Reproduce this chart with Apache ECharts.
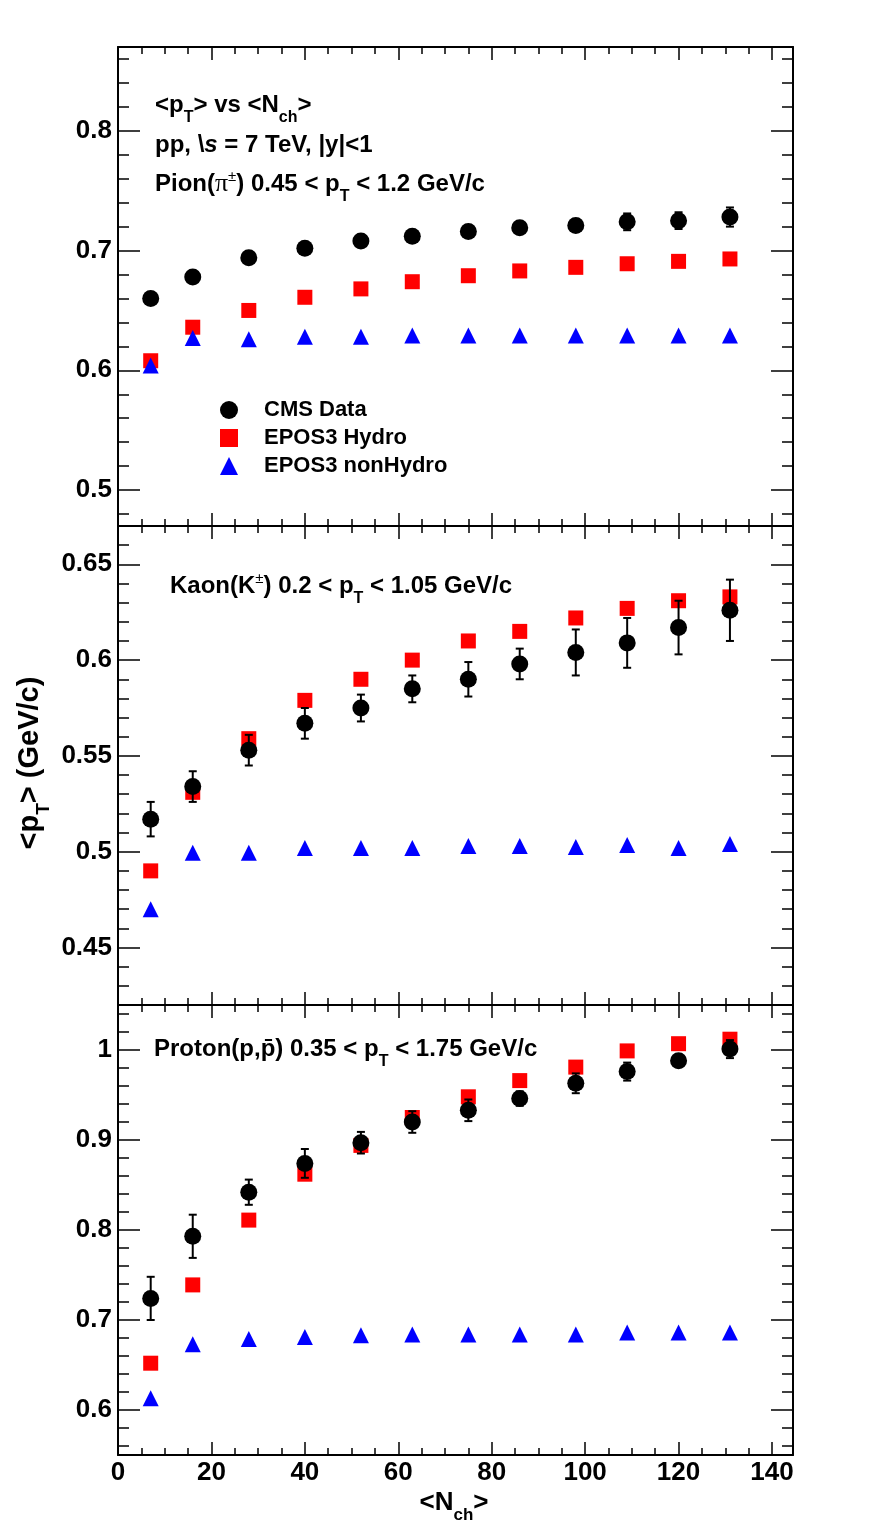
<!DOCTYPE html>
<html>
<head>
<meta charset="utf-8">
<script src="https://cdn.jsdelivr.net/npm/echarts@6/dist/echarts.min.js"></script>
<style>
  html, body { margin: 0; padding: 0; background: #fff; }
  #chart { width: 884px; height: 1536px; }
</style>
</head>
<body>
<div id="chart"></div>
<script>
// <Nch> bins
const nch = [7, 16, 28, 40, 52, 63, 75, 86, 98, 109, 120, 131];

// pion
const pionData = [0.660, 0.678, 0.694, 0.702, 0.708, 0.712, 0.716, 0.719, 0.721, 0.724, 0.725, 0.728];
const pionErr = [0.002, 0.002, 0.002, 0.003, 0.003, 0.003, 0.004, 0.004, 0.005, 0.007, 0.007, 0.008];
const pionHydro = [0.608, 0.636, 0.650, 0.661, 0.668, 0.674, 0.679, 0.683, 0.686, 0.689, 0.691, 0.693];
const pionNonHydro = [0.604, 0.627, 0.626, 0.628, 0.628, 0.629, 0.629, 0.629, 0.629, 0.629, 0.629, 0.629];

// kaon
const kaonData = [0.517, 0.534, 0.553, 0.567, 0.575, 0.585, 0.590, 0.598, 0.604, 0.609, 0.617, 0.626];
const kaonErr = [0.009, 0.008, 0.008, 0.008, 0.007, 0.007, 0.009, 0.008, 0.012, 0.013, 0.014, 0.016];
const kaonHydro = [0.490, 0.531, 0.559, 0.579, 0.590, 0.600, 0.610, 0.615, 0.622, 0.627, 0.631, 0.633];
const kaonNonHydro = [0.470, 0.4995, 0.4995, 0.502, 0.502, 0.502, 0.503, 0.503, 0.5025, 0.5035, 0.502, 0.504];

// proton
const protonData = [0.724, 0.793, 0.842, 0.874, 0.897, 0.920, 0.933, 0.946, 0.963, 0.976, 0.988, 1.001];
const protonErr = [0.024, 0.024, 0.014, 0.016, 0.012, 0.012, 0.012, 0.008, 0.011, 0.010, 0.006, 0.010];
const protonHydro = [0.652, 0.739, 0.811, 0.862, 0.894, 0.925, 0.948, 0.966, 0.981, 0.999, 1.007, 1.012];
const protonNonHydro = [0.613, 0.673, 0.679, 0.681, 0.683, 0.684, 0.684, 0.684, 0.684, 0.686, 0.686, 0.686];

// axis ranges
const xRange = [0, 144.5];
const yRanges = [[0.47, 0.87], [0.42, 0.67], [0.55, 1.05]];

const FONT = "'Liberation Sans', Arial, sans-serif";

let myChart = echarts.init(document.getElementById('chart'), null, {renderer: 'canvas'});

// panel boxes
const grids = [
    {left: 118, top: 47, width: 675, height: 479},
    {left: 118, top: 526, width: 675, height: 479},
    {left: 118, top: 1005, width: 675, height: 450}
];

function pairs(ys) {
    return nch.map((x, i) => [x, ys[i]]);
}

function xAxisPair(gi, withLabels) {
    const base = {
        type: 'value', gridIndex: gi, min: xRange[0], max: xRange[1], interval: 20,
        axisLine: {show: true, onZero: false, lineStyle: {color: '#000', width: 2}},
        axisTick: {show: true, inside: true, length: 13, lineStyle: {color: '#000', width: 1.5}},
        minorTick: {show: true, splitNumber: 4, length: 7, lineStyle: {color: '#000', width: 1.5}},
        splitLine: {show: false}
    };
    return [
        Object.assign({}, base, {
            position: 'bottom',
            axisLabel: {show: withLabels, showMaxLabel: false, margin: 5, color: '#000',
                fontSize: 26, fontWeight: 'bold', fontFamily: FONT}
        }),
        Object.assign({}, base, {position: 'top', axisLabel: {show: false}})
    ];
}

function yAxisPair(gi) {
    const base = {
        type: 'value', gridIndex: gi, min: yRanges[gi][0], max: yRanges[gi][1], splitNumber: 5,
        axisLine: {show: true, onZero: false, lineStyle: {color: '#000', width: 2}},
        axisTick: {show: true, inside: true, length: 22, lineStyle: {color: '#000', width: 1.5}},
        minorTick: {show: true, splitNumber: 5, length: 11, lineStyle: {color: '#000', width: 1.5}},
        splitLine: {show: false}
    };
    return [
        Object.assign({}, base, {
            position: 'left',
            axisLabel: {show: true, showMinLabel: false, showMaxLabel: false, margin: 6, color: '#000',
                fontSize: 26, fontWeight: 'bold', fontFamily: FONT}
        }),
        Object.assign({}, base, {position: 'right', axisLabel: {show: false}})
    ];
}

// error bar with caps
function renderErr(params, api) {
    const x = api.value(0), y = api.value(1), e = api.value(2);
    const hi = api.coord([x, y + e]);
    const lo = api.coord([x, y - e]);
    const w = 4;
    const st = {stroke: '#000', lineWidth: 2};
    return {
        type: 'group',
        children: [
            {type: 'line', shape: {x1: hi[0], y1: hi[1], x2: lo[0], y2: lo[1]}, style: st},
            {type: 'line', shape: {x1: hi[0] - w, y1: hi[1], x2: hi[0] + w, y2: hi[1]}, style: st},
            {type: 'line', shape: {x1: lo[0] - w, y1: lo[1], x2: lo[0] + w, y2: lo[1]}, style: st}
        ]
    };
}

function panelSeries(gi, data, err, hydro, nonHydro) {
    const ax = {xAxisIndex: gi * 2, yAxisIndex: gi * 2};
    return [
        Object.assign({name: 'EPOS3 Hydro', type: 'scatter', symbol: 'rect', symbolSize: 15,
            itemStyle: {color: '#ff0000', opacity: 1}, data: pairs(hydro), z: 2}, ax),
        Object.assign({name: 'EPOS3 nonHydro', type: 'scatter', symbol: 'triangle', symbolSize: 16,
            itemStyle: {color: '#0000ff', opacity: 1}, data: pairs(nonHydro), z: 3}, ax),
        Object.assign({name: 'CMS Data', type: 'scatter', symbol: 'circle', symbolSize: 17,
            itemStyle: {color: '#000', opacity: 1}, data: pairs(data), z: 5}, ax),
        Object.assign({name: 'CMS errors', type: 'custom', renderItem: renderErr,
            itemStyle: {color: '#000'},
            encode: {x: 0, y: 1}, data: nch.map((x, i) => [x, data[i], err[i]]), z: 4}, ax)
    ];
}

// rich text pieces
const rich = {
    sub: {fontSize: 16, fontWeight: 'bold', fontFamily: FONT, fill: '#000', lineHeight: 16, padding: [25, 0, 0, 0]},
    sup: {fontSize: 15, fontWeight: 'normal', fontFamily: FONT, fill: '#000', lineHeight: 15, padding: [0, 0, 15, 0]},
    gr: {fontSize: 26, fontWeight: 'normal', fontFamily: "'Liberation Serif', 'DejaVu Serif', serif", fill: '#000', lineHeight: 24},
    it: {fontSize: 24, fontWeight: 'bold', fontStyle: 'italic', fontFamily: FONT, fill: '#000', lineHeight: 24}
};

function label(txt, x, y, size) {
    return {
        type: 'text', x: x, y: y, z: 10,
        style: {
            text: txt, rich: rich, fill: '#000',
            fontSize: size || 24, fontWeight: 'bold', fontFamily: FONT,
            align: 'left', verticalAlign: 'middle'
        }
    };
}

let graphics = [
    label('<p{sub|T}> vs <N{sub|ch}>', 155, 105),
    label('pp, \\{it|s} = 7 TeV, |y|<1', 155, 145),
    label('Pion({gr|\u03c0}{sup|\u00b1}) 0.45 < p{sub|T} < 1.2 GeV/c', 155, 184),
    label('Kaon(K{sup|\u00b1}) 0.2 < p{sub|T} < 1.05 GeV/c', 170, 586),
    label('Proton(p,p\u0304) 0.35 < p{sub|T} < 1.75 GeV/c', 154, 1049),
    {
        type: 'text', x: 454, y: 1503, z: 10,
        style: {
            text: '<N{s2|ch}>', fill: '#000', fontSize: 26, fontWeight: 'bold', fontFamily: FONT,
            align: 'center', verticalAlign: 'middle',
            rich: {s2: {fontSize: 17, fontWeight: 'bold', fontFamily: FONT, fill: '#000', lineHeight: 17, padding: [24, 0, 0, 0]}}
        }
    },
    {
        type: 'text', x: 30, y: 763, rotation: Math.PI / 2, z: 10,
        style: {
            text: '<p{s3|T}> (GeV/c)', fill: '#000', fontSize: 29, fontWeight: 'bold', fontFamily: FONT,
            align: 'center', verticalAlign: 'middle',
            rich: {s3: {fontSize: 19, fontWeight: 'bold', fontFamily: FONT, fill: '#000', lineHeight: 19, padding: [28, 0, 0, 0]}}
        }
    }
];

myChart.setOption({
    backgroundColor: '#fff',
    animation: false,
    grid: grids,
    xAxis: [].concat(xAxisPair(0, false), xAxisPair(1, false), xAxisPair(2, true)),
    yAxis: [].concat(yAxisPair(0), yAxisPair(1), yAxisPair(2)),
    legend: {
        left: 220, top: 399, orient: 'vertical', padding: 0,
        itemWidth: 18, itemHeight: 18, itemGap: 6,
        selectedMode: false,
        data: ['CMS Data', 'EPOS3 Hydro', 'EPOS3 nonHydro'],
        textStyle: {color: '#000', fontSize: 22, fontWeight: 'bold', fontFamily: FONT, padding: [0, 0, 0, 21]}
    },
    series: [].concat(
        panelSeries(0, pionData, pionErr, pionHydro, pionNonHydro),
        panelSeries(1, kaonData, kaonErr, kaonHydro, kaonNonHydro),
        panelSeries(2, protonData, protonErr, protonHydro, protonNonHydro)
    ),
    graphic: graphics
});
</script>
</body>
</html>
